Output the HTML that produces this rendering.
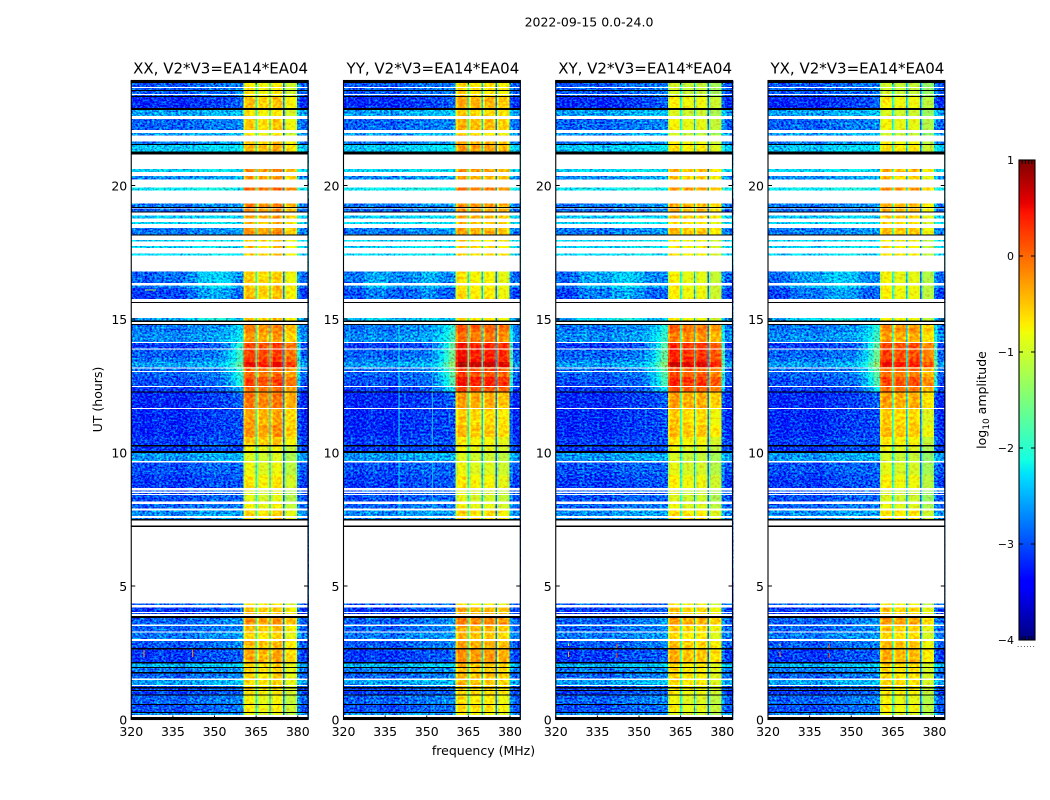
<!DOCTYPE html>
<html lang="en">
<head>
<meta charset="utf-8">
<title>2022-09-15 amplitude spectrogram</title>
<style>
html,body{margin:0;padding:0;background:#fff;}
svg{display:block;}
text{font-family:"DejaVu Sans","Liberation Sans",sans-serif;fill:#000;}
</style>
</head>
<body>
<svg id="figure" xmlns="http://www.w3.org/2000/svg" width="1050" height="800" viewBox="0 0 1050 800">
  <defs>
    <filter id="grain-0" filterUnits="userSpaceOnUse" x="0" y="0" width="1050" height="800" color-interpolation-filters="sRGB">
      <feTurbulence type="fractalNoise" baseFrequency="0.42 0.55" numOctaves="2" seed="3" result="n"/>
      <feColorMatrix in="n" type="matrix" values="0 0 0 0 0.5  1.9 0 0 0 -0.45  0.7 0 0 0 0.15  0 0 0 0 1" result="m"/>
      <feComposite in="SourceGraphic" in2="m" operator="arithmetic" k1="0" k2="1" k3="0.9" k4="-0.45" result="s"/>
      <feComposite in="s" in2="SourceAlpha" operator="in"/>
    </filter>
    <filter id="grain-1" filterUnits="userSpaceOnUse" x="0" y="0" width="1050" height="800" color-interpolation-filters="sRGB">
      <feTurbulence type="fractalNoise" baseFrequency="0.45 0.5" numOctaves="2" seed="11" result="n"/>
      <feColorMatrix in="n" type="matrix" values="0 0 0 0 0.5  1.9 0 0 0 -0.45  0.7 0 0 0 0.15  0 0 0 0 1" result="m"/>
      <feComposite in="SourceGraphic" in2="m" operator="arithmetic" k1="0" k2="1" k3="0.9" k4="-0.45" result="s"/>
      <feComposite in="s" in2="SourceAlpha" operator="in"/>
    </filter>
    <filter id="grain-2" filterUnits="userSpaceOnUse" x="0" y="0" width="1050" height="800" color-interpolation-filters="sRGB">
      <feTurbulence type="fractalNoise" baseFrequency="0.4 0.58" numOctaves="2" seed="23" result="n"/>
      <feColorMatrix in="n" type="matrix" values="0 0 0 0 0.5  1.9 0 0 0 -0.45  0.7 0 0 0 0.15  0 0 0 0 1" result="m"/>
      <feComposite in="SourceGraphic" in2="m" operator="arithmetic" k1="0" k2="1" k3="0.9" k4="-0.45" result="s"/>
      <feComposite in="s" in2="SourceAlpha" operator="in"/>
    </filter>
    <filter id="grain-3" filterUnits="userSpaceOnUse" x="0" y="0" width="1050" height="800" color-interpolation-filters="sRGB">
      <feTurbulence type="fractalNoise" baseFrequency="0.44 0.52" numOctaves="2" seed="37" result="n"/>
      <feColorMatrix in="n" type="matrix" values="0 0 0 0 0.5  1.9 0 0 0 -0.45  0.7 0 0 0 0.15  0 0 0 0 1" result="m"/>
      <feComposite in="SourceGraphic" in2="m" operator="arithmetic" k1="0" k2="1" k3="0.9" k4="-0.45" result="s"/>
      <feComposite in="s" in2="SourceAlpha" operator="in"/>
    </filter>
    <filter id="grain-band" filterUnits="userSpaceOnUse" x="0" y="0" width="1050" height="800" color-interpolation-filters="sRGB">
      <feTurbulence type="fractalNoise" baseFrequency="0.3 0.35" numOctaves="2" seed="5" result="n"/>
      <feColorMatrix in="n" type="matrix" values="0 0 0 0 0.5  1.9 0 0 0 -0.45  0 0 0 0 0.5  0 0 0 0 1" result="m"/>
      <feComposite in="SourceGraphic" in2="m" operator="arithmetic" k1="0" k2="1" k3="0.4" k4="-0.2" result="s"/>
      <feComposite in="s" in2="SourceAlpha" operator="in"/>
    </filter>
  </defs>

  <text x="589" y="26.5" font-size="12.5" text-anchor="middle">2022-09-15 0.0-24.0</text>
  <text x="220.6" y="73.5" font-size="15" text-anchor="middle">XX, V2*V3=EA14*EA04</text>
  <text x="432.9" y="73.5" font-size="15" text-anchor="middle">YY, V2*V3=EA14*EA04</text>
  <text x="645.1" y="73.5" font-size="15" text-anchor="middle">XY, V2*V3=EA14*EA04</text>
  <text x="857.4" y="73.5" font-size="15" text-anchor="middle">YX, V2*V3=EA14*EA04</text>
  <text x="0" y="0" font-size="12.5" text-anchor="middle" transform="translate(102 399.5) rotate(-90)">UT (hours)</text>
  <text x="483.5" y="755" font-size="12.5" text-anchor="middle">frequency (MHz)</text>
  <text x="0" y="0" font-size="12.5" text-anchor="middle" transform="translate(986 400) rotate(-90)">log<tspan font-size="9" dy="3">10</tspan><tspan dy="-3"> amplitude</tspan></text>
  <text x="1017" y="647" font-size="7" letter-spacing="0.9" fill="#555">......</text>
  <g id="panels"></g>
  <g id="colorbar"></g>
</svg>

<script>
// ---- data: UT rows (hours) ----
const utEdges = [
  0, .25, .54, .89, 1.07, 1.3, 1.54, 1.77, 1.96, 2.16,
  2.67, 3.01, 3.3, 3.55, 3.88, 4.2, 7.5, 7.82, 8.12, 8.6,
  9.16, 9.65, 10.02, 10.28, 10.58, 11.03, 11.65, 12.26, 12.47, 12.83,
  13.1, 13.2, 13.39, 13.54, 13.9, 14.12, 14.5, 14.8, 15.6, 16.17,
  16.3, 16.77, 17.8, 18.15, 18.45, 18.7, 18.95, 19.15, 19.5, 20,
  20.45, 21.2, 21.52, 21.9, 22.05, 22.5, 22.85, 23.33, 23.94
];
// log10 amplitude of the out-of-band noise floor for each UT row
const rowOutband = [
  -2.7, -3.0, -2.9, -3.1, -3.0, -2.6, -2.9, -2.8, -2.5, -3.1,
  -2.95, -2.8, -2.9, -2.9, -3.1, -2.9, -2.7, -2.9, -3.0, -3.1,
  -3.0, -2.65, -3.1, -3.1, -3.2, -3.2, -3.2, -3.1, -3.0, -2.9,
  -2.8, -2.6, -2.8, -2.9, -3.1, -2.7, -2.8, -2.6, -3.1, -2.8,
  -2.9, -2.3, -2.3, -2.8, -2.3, -2.4, -2.9, -2.8, -2.2, -2.7,
  -2.3, -2.4, -2.8, -2.6, -2.9, -2.6, -3.2, -2.95
];
// log10 amplitude inside the 360-380 MHz band (XX reference) per UT row
const rowInband = [
  -.9, -.75, -.8, -.7, -.7, -.6, -.6, -.6, -.6, -.35,
  -.45, -.6, -.5, -.25, -.5, -.7, -.6, -.8, -.9, -.7,
  -.85, -.95, -.8, -.5, -.25, -.35, -.1, -.05, .2, -.05,
  0, .5, .25, .2, .2, -.3, -.15, -.5, -.5, -.5,
  -.55, -.5, -.55, -.25, -.4, -.3, -.2, -.15, 0, -.3,
  -.2, -.4, -.5, -.8, -.55, -.7, -.5, -.75
];
// level reached by the band-edge skirt just below 360 MHz per UT row
const rowWing = [
  -2.6, -2.8, -2.7, -2.9, -2.8, -2.4, -2.7, -2.6, -2.3, -2.9,
  -2.7, -2.6, -2.7, -2.6, -2.9, -2.8, -2.6, -2.8, -2.9, -2.95,
  -2.9, -2.5, -3.0, -3.0, -3.0, -3.0, -2.9, -2.5, -2.1, -2.0,
  -1.9, -1.7, -1.9, -1.9, -2.0, -2.2, -2.3, -2.4, -2.9, -2.6,
  -2.7, -2.3, -2.3, -2.6, -2.3, -2.4, -2.7, -2.6, -2.2, -2.5,
  -2.3, -2.2, -2.6, -2.4, -2.7, -2.4, -2.9, -2.75
];
// ---- data: flagged UT intervals (hours) ----
const flagWhiteStart = [.10,1.25,1.48,2.94,3.27,3.50,3.88,3.98,4.20,4.35,7.27,7.55,7.82,8.07,8.40,8.49,8.57,9.63,11.63,12.45,13.04,13.14,13.88,14.10,14.82,15.04,15.64,16.25,16.77,17.46,17.73,17.96,18.40,18.64,18.87,19.13,19.33,19.92,20.36,20.62,21.64,21.97,22.49,23.39,23.65];
const flagWhiteEnd   = [.17,1.30,1.54,3.01,3.30,3.55,3.95,4.03,4.28,7.21,7.45,7.62,7.91,8.16,8.44,8.53,8.67,9.68,11.67,12.49,13.06,13.19,13.90,14.14,14.89,15.59,15.75,16.34,17.37,17.66,17.90,18.13,18.56,18.77,18.98,19.17,19.81,20.23,20.51,21.17,21.88,22.08,22.60,23.43,23.69];
const flagBlackStart = [0,.25,.54,.89,1.07,1.17,1.73,1.92,2.10,2.63,3.80,7.21,7.45,9.99,10.23,12.24,14.78,14.89,15.59,18.13,18.98,19.17,21.17,21.51,22.83,23.31,23.54,23.84];
const flagBlackEnd   = [.10,.29,.58,.94,1.10,1.21,1.77,1.96,2.16,2.67,3.88,7.27,7.51,10.06,10.28,12.28,14.82,14.94,15.64,18.17,19.02,19.19,21.27,21.55,22.90,23.35,23.58,23.94];
// ---- data: frequency channels (MHz) ----
const outFreqEdges = [320,324,328,332,336,340,344,348,352,354,356,358,360.4];
const outColumnOffset = [0,-.05,.05,0,-.05,.05,.08,.12,.12,.1,.05,0];
const wingShare = [0,0,0,0,0,0,0,0,.15,.35,.65,1];
const upperFreqEdges = [379.8,381,384];
const upperColumnOffset = [.25,0];
const bandFreqEdges = [[360.4,361.2,364,364.75],[365.25,366,369,369.75],[370.25,371,374,374.75],[375.25,376,379,379.8]];
const bandColumnOffset = [-.3,0,-.12];
const notchFreqEdges = [[364.75,365.25],[369.75,370.25],[374.75,375.25]];
const notchLevel = [-2.0,-2.3,-2.7];
// ---- data: per polarisation adjustments ----
const panelNames = ['xx','yy','xy','yx'];
const epochEnds = [4.4,10.3,12.3,15,17,21.2,24];
const inbandOffsetXX = [0,0,0,0,0,0,0];
const inbandOffsetYY = [.1,-.05,-.25,.2,-.2,-.1,.1];
const inbandOffsetXY = [-.1,-.1,-.25,.1,-.3,-.25,-.3];
const inbandOffsetYX = [-.05,-.1,-.25,-.05,-.3,-.25,-.3];
const inbandOffsets = [inbandOffsetXX,inbandOffsetYY,inbandOffsetXY,inbandOffsetYX];
const subbandOffsetXX = [.05,-.05,.05,-.25];
const subbandOffsetYY = [.1,0,0,-.1];
const subbandOffsetXY = [.1,0,0,-.2];
const subbandOffsetYX = [.1,0,0,-.3];
const subbandOffsets = [subbandOffsetXX,subbandOffsetYY,subbandOffsetXY,subbandOffsetYX];
const wingOffset = [0,.3,.25,.3];
// lighter vertical structure seen between 15 and 17 UT, one value per lower channel
const lateColumnOffsetXX = [0,0,0,.05,.1,.2,.4,.45,.45,.4,.3,.2];
const lateColumnOffsetYY = [.1,.15,.3,.35,.25,.1,.15,.3,.25,.1,.1,.1];
const lateColumnOffsetXY = [0,.1,.25,.35,.35,.45,.5,.3,.1,.1,.05,.05];
const lateColumnOffsetYX = [0,.1,.2,.3,.35,.4,.45,.35,.2,.1,.1,.05];
const lateColumnOffsets = [lateColumnOffsetXX,lateColumnOffsetYY,lateColumnOffsetXY,lateColumnOffsetYX];
// ---- data: isolated interference features ----
const rfiPanel = [1,1,0,0,0,2,2,2,2,3,3,3,3];
const rfiFreqStart = [339.8,351.9,324.4,341.9,325,324.4,324.4,341.9,341.9,324.1,324.1,341.9,341.9];
const rfiFreqEnd = [340.2,352.2,324.8,342.3,329,324.8,324.8,342.3,342.3,324.5,324.5,342.3,342.3];
const rfiUtStart = [7.6,7.6,2.35,2.35,16.06,2.35,2.75,2.3,2.6,2.35,2.75,2.3,2.6];
const rfiUtEnd = [15,15,2.6,2.65,16.11,2.55,2.85,2.5,2.85,2.55,2.85,2.5,2.85];
const rfiLevel = [-2.2,-2.5,-.3,-.1,-1.3,-.3,-.6,.2,.2,-.3,-.6,.2,.2];
// ---- data: axis ticks ----
const xTicks = [320,335,350,365,380];
const yTicks = [0,5,10,15,20];
const colorbarTicks = [1,0,-1,-2,-3,-4];
const colorbarMinorTicks = [0,.2,.4,.6,.8,1];
const colorbarMin = -4;
const colorbarMax = 1;

// ---- axes ----
const PANEL_LEFT = 131.25, PANEL_STEP = 212.25, PANEL_W = 176.75;
const PANEL_TOP = 80.5, PANEL_BOTTOM = 719.5;
const FREQ_MIN = 320, PX_PER_MHZ = 2.775, PX_PER_HOUR = 26.7;
const CB_X = 1019, CB_W = 16, CB_TOP = 160, CB_BOTTOM = 640;
function xScale(panel, mhz){ return PANEL_LEFT + PANEL_STEP*panel + (mhz-FREQ_MIN)*PX_PER_MHZ; }
function yScale(ut){ return PANEL_BOTTOM - ut*PX_PER_HOUR; }
function cbScale(v){ return CB_BOTTOM - (v-colorbarMin)/(colorbarMax-colorbarMin)*(CB_BOTTOM-CB_TOP); }

function lerpStops(stops, f){
  for(let i=1;i<stops.length;i++){
    if(f<=stops[i][0]){
      const a=stops[i-1], b=stops[i];
      return a[1]+(b[1]-a[1])*(f-a[0])/(b[0]-a[0]);
    }
  }
  return stops[stops.length-1][1];
}
function jet(v){
  const f=Math.max(0,Math.min(1,(v-colorbarMin)/(colorbarMax-colorbarMin)));
  const r=lerpStops([[0,0],[.35,0],[.66,1],[.89,1],[1,.5]],f);
  const g=lerpStops([[0,0],[.125,0],[.375,1],[.64,1],[.91,0],[1,0]],f);
  const b=lerpStops([[0,.5],[.11,1],[.34,1],[.65,0],[1,0]],f);
  return 'rgb('+Math.round(r*255)+','+Math.round(g*255)+','+Math.round(b*255)+')';
}

const NS='http://www.w3.org/2000/svg';
function svgEl(tag,parent){ const e=document.createElementNS(NS,tag); parent.appendChild(e); return e; }
function place(rect,x0,x1,y0,y1,fill){
  rect.setAttribute('x',x0);
  rect.setAttribute('width',Math.max(.5,x1-x0));
  rect.setAttribute('y',y1);
  rect.setAttribute('height',Math.max(1,y0-y1));
  rect.setAttribute('fill',fill);
  rect.setAttribute('shape-rendering','crispEdges');
}
function epochIndex(ut){
  for(let i=0;i<epochEnds.length;i++){ if(ut<epochEnds[i]) return i; }
  return epochEnds.length-1;
}
function heatCell(group,panel,f0,f1,u0,u1,value){
  const c=svgEl('rect',group);
  
  
  place(c,xScale(panel,f0),xScale(panel,f1),yScale(u0),yScale(u1),jet(value));
}
function tickLine(group,x1,y1,x2,y2,name){
  const t=svgEl('line',group);
  
  
  t.setAttribute('x1',x1);t.setAttribute('y1',y1);t.setAttribute('x2',x2);t.setAttribute('y2',y2);
  t.setAttribute('stroke','#000');t.setAttribute('stroke-width','1');
}

const panelsRoot=document.getElementById('panels');
panelNames.forEach(function(name,p){
  const panel=svgEl('g',panelsRoot);
  
  

  const outGroup=svgEl('g',panel);
  
  
  outGroup.setAttribute('filter','url(#grain-'+p+')');

  const bandGroup=svgEl('g',panel);
  
  
  bandGroup.setAttribute('filter','url(#grain-band)');

  for(let r=0;r<rowOutband.length;r++){
    const u0=utEdges[r], u1=utEdges[r+1];
    const epoch=epochIndex((u0+u1)/2);
    const base=rowOutband[r];
    const wing=rowWing[r]+(epoch===3?wingOffset[p]:0);
    for(let c=0;c<outColumnOffset.length;c++){
      const extra=epoch===4?lateColumnOffsets[p][c]:0;
      const own=base+outColumnOffset[c]+extra;
      const v=own+(Math.max(wing,own)-own)*wingShare[c];
      heatCell(outGroup,p,outFreqEdges[c],outFreqEdges[c+1],u0,u1,v);
    }
    for(let c=0;c<upperColumnOffset.length;c++){
      const own=base+upperColumnOffset[c];
      const v=c===0?Math.max(own,wing-.2):own;
      heatCell(outGroup,p,upperFreqEdges[c],upperFreqEdges[c+1],u0,u1,v);
    }
    const level=rowInband[r]+inbandOffsets[p][epoch];
    bandFreqEdges.forEach(function(edges,s){
      for(let c=0;c<bandColumnOffset.length;c++){
        heatCell(bandGroup,p,edges[c],edges[c+1],u0,u1,level+subbandOffsets[p][s]+bandColumnOffset[c]);
      }
    });
    notchFreqEdges.forEach(function(edges,n){
      heatCell(bandGroup,p,edges[0],edges[1],u0,u1,notchLevel[n]+.2*level);
    });
  }

  const rfiGroup=svgEl('g',panel);
  
  
  rfiPanel.forEach(function(owner,i){
    if(owner!==p) return;
    heatCell(rfiGroup,p,rfiFreqStart[i],rfiFreqEnd[i],rfiUtStart[i],rfiUtEnd[i],rfiLevel[i]);
  });

  const flags=svgEl('g',panel);
  
  
  const x0=xScale(p,FREQ_MIN), x1=x0+PANEL_W;
  flagWhiteStart.forEach(function(s,i){
    const f=svgEl('rect',flags);
    
    
    place(f,x0,x1,yScale(s),yScale(flagWhiteEnd[i]),'#fff');
  });
  flagBlackStart.forEach(function(s,i){
    const f=svgEl('rect',flags);
    
    
    place(f,x0,x1,yScale(s),yScale(flagBlackEnd[i]),'#000');
  });

  const frame=svgEl('rect',panel);
  
  
  frame.setAttribute('x',x0);frame.setAttribute('y',PANEL_TOP);
  frame.setAttribute('width',PANEL_W);frame.setAttribute('height',PANEL_BOTTOM-PANEL_TOP);
  frame.setAttribute('fill','none');frame.setAttribute('stroke','#000');frame.setAttribute('stroke-width','1.1');

  xTicks.forEach(function(v){
    const x=xScale(p,v);
    tickLine(panel,x,PANEL_BOTTOM,x,PANEL_BOTTOM-4,'x-tick');
    tickLine(panel,x,PANEL_TOP,x,PANEL_TOP+4,'x-tick-top');
    const t=svgEl('text',panel);
    
    
    t.setAttribute('x',x);t.setAttribute('y',736);
    t.setAttribute('font-size','12.5');t.setAttribute('text-anchor','middle');
    t.textContent=v;
  });
  yTicks.forEach(function(v){
    const y=yScale(v);
    tickLine(panel,x0,y,x0+4,y,'y-tick');
    tickLine(panel,x1,y,x1-4,y,'y-tick-right');
    const t=svgEl('text',panel);
    
    
    t.setAttribute('x',x0-4);t.setAttribute('y',y+5);
    t.setAttribute('font-size','12.5');t.setAttribute('text-anchor','end');
    t.textContent=v;
  });
});

// ---- colorbar ----
const cbRoot=document.getElementById('colorbar');
const cbSteps=240;
for(let i=0;i<cbSteps;i++){
  const lo=colorbarMin+(colorbarMax-colorbarMin)*i/cbSteps;
  const hi=colorbarMin+(colorbarMax-colorbarMin)*(i+1)/cbSteps;
  const s=svgEl('rect',cbRoot);
  
  
  place(s,CB_X,CB_X+CB_W,cbScale(lo),cbScale(hi),jet((lo+hi)/2));
}
const cbFrame=svgEl('rect',cbRoot);


cbFrame.setAttribute('x',CB_X);cbFrame.setAttribute('y',CB_TOP);
cbFrame.setAttribute('width',CB_W);cbFrame.setAttribute('height',CB_BOTTOM-CB_TOP);
cbFrame.setAttribute('fill','none');cbFrame.setAttribute('stroke','#000');cbFrame.setAttribute('stroke-width','1.1');
colorbarTicks.forEach(function(v){
  const y=cbScale(v);
  tickLine(cbRoot,CB_X,y,CB_X+4,y,'colorbar-tick');
  tickLine(cbRoot,CB_X+CB_W,y,CB_X+CB_W-4,y,'colorbar-tick-right');
  const t=svgEl('text',cbRoot);
  
  
  t.setAttribute('x',CB_X-5);t.setAttribute('y',y+4);
  t.setAttribute('font-size','11');t.setAttribute('text-anchor','end');
  t.textContent=v<0?'\u2212'+Math.abs(v):String(v);
});
colorbarMinorTicks.forEach(function(f){
  const x=CB_X+CB_W*f;
  tickLine(cbRoot,x,CB_TOP,x,CB_TOP+4,'colorbar-minor-tick-top');
  tickLine(cbRoot,x,CB_BOTTOM,x,CB_BOTTOM-4,'colorbar-minor-tick-bottom');
});
</script>
</body>
</html>
